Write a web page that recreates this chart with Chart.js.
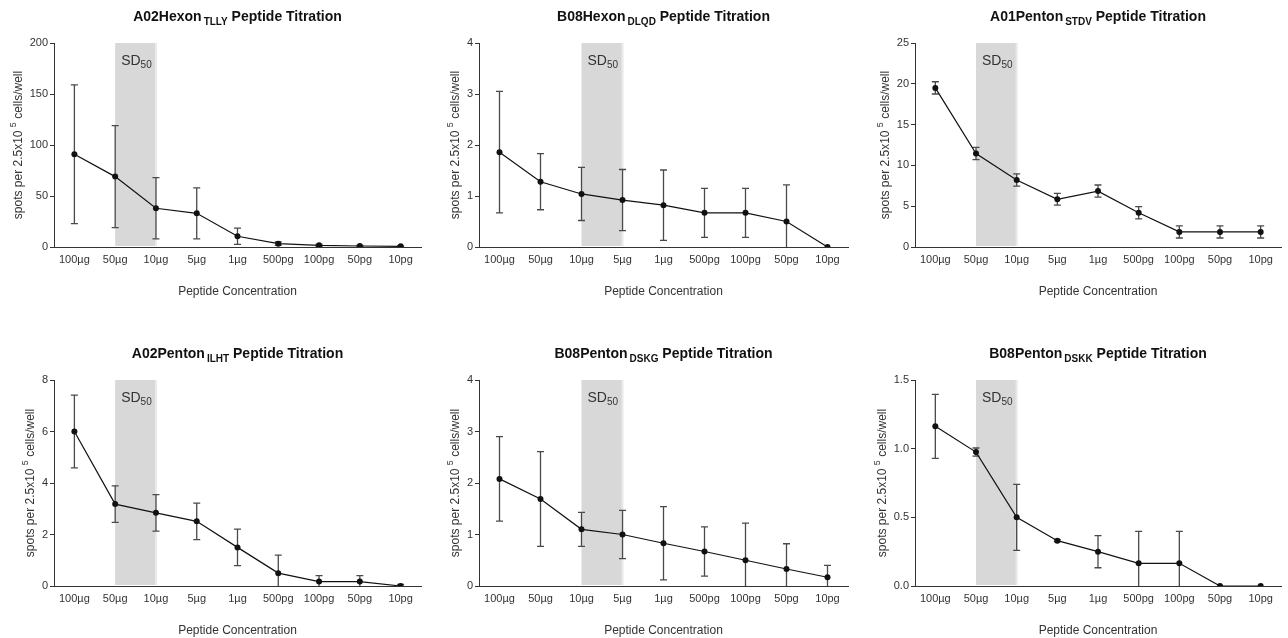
<!DOCTYPE html>
<html>
<head>
<meta charset="utf-8">
<script src="https://cdn.jsdelivr.net/npm/chart.js@4.4.1/dist/chart.umd.min.js"></script>
<style>
body { margin: 0; background: #fff; }
#wrap { position: relative; width: 1288px; height: 638px; overflow: hidden; }
canvas { position: absolute; }
</style>
</head>
<body>
<div id="wrap">
  <canvas id="c0" width="430" height="310" style="left:0px;top:0px"></canvas>
  <canvas id="c1" width="430" height="310" style="left:430px;top:0px"></canvas>
  <canvas id="c2" width="430" height="310" style="left:858px;top:0px"></canvas>
  <canvas id="c3" width="430" height="301" style="left:0px;top:337px"></canvas>
  <canvas id="c4" width="430" height="301" style="left:430px;top:337px"></canvas>
  <canvas id="c5" width="430" height="301" style="left:858px;top:337px"></canvas>
</div>
<script>
// x categories, same for every panel
const concentrations = ['100µg', '50µg', '10µg', '5µg', '1µg', '500pg', '100pg', '50pg', '10pg']

// panel titles (name + subscript)
const peptideNames = ['A02Hexon', 'B08Hexon', 'A01Penton', 'A02Penton', 'B08Penton', 'B08Penton']
const peptideSubs = ['TLLY', 'DLQD', 'STDV', 'ILHT', 'DSKG', 'DSKK']

// y axis max and step
const yMax = [200, 4, 25, 8, 4, 1.5]
const yStep = [50, 1, 5, 2, 1, 0.5]

// SD50 band starts at this category and ends at the next one
const sdBandStart = [1, 2, 1, 1, 2, 1]

// mean spots and error (+/-) per concentration
const tllyMean = [91, 69, 38, 33, 10.5, 3.3, 1.6, 1.0, 0.7]
const tllyErr = [68, 50, 30, 25, 8, 1.8, 1, 0.5, 0.3]

const dlqdMean = [1.86, 1.28, 1.04, 0.92, 0.82, 0.67, 0.67, 0.5, 0]
const dlqdErr = [1.19, 0.55, 0.52, 0.6, 0.69, 0.48, 0.48, 0.72, 0]

const stdvMean = [19.5, 11.45, 8.2, 5.85, 6.85, 4.2, 1.85, 1.85, 1.85]
const stdvErr = [0.75, 0.75, 0.75, 0.72, 0.75, 0.75, 0.75, 0.75, 0.75]

const ilhtMean = [6.0, 3.18, 2.84, 2.51, 1.5, 0.5, 0.17, 0.17, 0]
const ilhtErr = [1.41, 0.71, 0.71, 0.71, 0.71, 0.7, 0.23, 0.23, 0.06]

const dskgMean = [2.08, 1.69, 1.1, 1.0, 0.83, 0.67, 0.5, 0.33, 0.17]
const dskgErr = [0.82, 0.92, 0.33, 0.47, 0.71, 0.48, 0.72, 0.49, 0.23]

const dskkMean = [1.163, 0.975, 0.5, 0.33, 0.25, 0.165, 0.165, 0, 0]
const dskkErr = [0.233, 0.03, 0.24, 0.007, 0.117, 0.233, 0.233, 0, 0]

const means = [tllyMean, dlqdMean, stdvMean, ilhtMean, dskgMean, dskkMean]
const errors = [tllyErr, dlqdErr, stdvErr, ilhtErr, dskgErr, dskkErr]

// where the plot area sits inside each canvas
const layouts = [
    { left: 54, right: 9, top: 43, xh: 63 },
    { left: 49, right: 12, top: 43, xh: 63 },
    { left: 57, right: 7, top: 43, xh: 63 },
    { left: 54, right: 9, top: 43, xh: 52 },
    { left: 49, right: 12, top: 43, xh: 52 },
    { left: 57, right: 7, top: 43, xh: 52 }
]

const FONT = '"Liberation Sans", Arial, sans-serif'
const TEXT = '#333'

// draws text parts (normal + sub/superscript) in a row centred on x
function drawParts(ctx, parts, x, y) {
    let total = 0
    parts.forEach(p => {
        ctx.font = p.font
        total += ctx.measureText(p.text).width + (p.gap || 0)
    })
    let cx = x - total / 2
    parts.forEach(p => {
        ctx.font = p.font
        ctx.fillText(p.text, cx, y + (p.dy || 0))
        cx += ctx.measureText(p.text).width + (p.gap || 0)
    })
}

const decorPlugin = {
    id: 'decor',
    beforeDatasetsDraw(chart, args, opts) {
        const ctx = chart.ctx
        const a = chart.chartArea
        const x = chart.scales.x
        const y = chart.scales.y
        const i = opts.index

        // SD50 band
        const x1 = x.getPixelForValue(sdBandStart[i])
        const x2 = x.getPixelForValue(sdBandStart[i] + 1)
        ctx.save()
        ctx.fillStyle = '#d8d8d8'
        ctx.fillRect(x1, a.top, x2 - x1, a.bottom - a.top - 1)
        ctx.fillStyle = '#e9e9e9'
        ctx.fillRect(x2 - 1, a.top, 2, a.bottom - a.top - 1)
        ctx.fillStyle = TEXT
        ctx.textBaseline = 'alphabetic'
        ctx.textAlign = 'left'
        ctx.font = '14px ' + FONT
        ctx.fillText('SD', x1 + 6, a.top + 22)
        const w = ctx.measureText('SD').width
        ctx.font = '10px ' + FONT
        ctx.fillText('50', x1 + 6 + w, a.top + 25)
        ctx.restore()

        // error bars
        ctx.save()
        ctx.beginPath()
        ctx.rect(a.left, a.top - 10, a.right - a.left, a.bottom - a.top + 10)
        ctx.clip()
        ctx.strokeStyle = '#4a4a4a'
        ctx.lineWidth = 1.3
        means[i].forEach((m, k) => {
            const e = errors[i][k]
            if (!e) return
            const px = x.getPixelForValue(k)
            const top = y.getPixelForValue(m + e)
            const low = m - e
            const bot = y.getPixelForValue(Math.max(low, 0))
            ctx.beginPath()
            ctx.moveTo(px, top)
            ctx.lineTo(px, bot)
            ctx.moveTo(px - 3.5, top)
            ctx.lineTo(px + 3.5, top)
            if (low > 0) {
                ctx.moveTo(px - 3.5, bot)
                ctx.lineTo(px + 3.5, bot)
            }
            ctx.stroke()
        })
        ctx.restore()
    },
    afterDraw(chart, args, opts) {
        const ctx = chart.ctx
        const a = chart.chartArea
        const i = opts.index
        const cx = (a.left + a.right) / 2
        ctx.save()
        ctx.fillStyle = '#111'
        ctx.textAlign = 'left'
        ctx.textBaseline = 'alphabetic'

        // title with subscript
        drawParts(ctx, [
            { text: peptideNames[i], font: 'bold 14px ' + FONT, gap: 2 },
            { text: peptideSubs[i], font: 'bold 10px ' + FONT, dy: 4 },
            { text: ' Peptide Titration', font: 'bold 14px ' + FONT }
        ], cx, a.top - 22)

        // x title
        ctx.fillStyle = TEXT
        drawParts(ctx, [{ text: 'Peptide Concentration', font: '12px ' + FONT }], cx, a.bottom + 48)

        // y title, rotated, placed left of the widest tick label
        ctx.font = '11px ' + FONT
        let widest = 0
        chart.scales.y.ticks.forEach(t => {
            widest = Math.max(widest, ctx.measureText(t.label).width)
        })
        const ty = a.left - 6 - widest - 12
        ctx.translate(ty, (a.top + a.bottom) / 2)
        ctx.rotate(-Math.PI / 2)
        drawParts(ctx, [
            { text: 'spots per 2.5x10 ', font: '12px ' + FONT },
            { text: '5', font: '9px ' + FONT, dy: -6 },
            { text: ' cells/well', font: '12px ' + FONT }
        ], 0, 4)
        ctx.restore()
    }
}

function makePanel(i) {
    const lay = layouts[i]
    const canvas = document.querySelector('#c' + i)
    new Chart(canvas.getContext('2d'), {
        type: 'line',
        data: {
            labels: concentrations,
            datasets: [{
                data: means[i],
                borderColor: '#111',
                backgroundColor: '#111',
                borderWidth: 1.2,
                pointRadius: 3,
                pointBackgroundColor: '#111',
                pointBorderWidth: 0,
                tension: 0
            }]
        },
        options: {
            responsive: false,
            animation: false,
            layout: { padding: { left: 0, top: lay.top, right: lay.right, bottom: 0 } },
            plugins: {
                legend: { display: false },
                tooltip: { enabled: false },
                decor: { index: i }
            },
            scales: {
                x: {
                    offset: true,
                    afterFit: s => { s.height = lay.xh },
                    grid: { display: true, drawOnChartArea: false, drawTicks: false },
                    border: { color: '#333', width: 1 },
                    ticks: {
                        color: TEXT,
                        font: { family: FONT, size: 11 },
                        padding: 6,
                        maxRotation: 0,
                        autoSkip: false
                    }
                },
                y: {
                    min: 0,
                    max: yMax[i],
                    afterFit: s => { s.width = lay.left },
                    grid: { display: true, drawOnChartArea: false, drawTicks: true, tickLength: 4, color: '#333' },
                    border: { color: '#333', width: 1 },
                    ticks: {
                        stepSize: yStep[i],
                        color: TEXT,
                        font: { family: FONT, size: 11 },
                        padding: 2,
                        callback: v => (yStep[i] < 1 ? v.toFixed(1) : v)
                    }
                }
            }
        },
        plugins: [decorPlugin]
    })
}

for (let i = 0; i < 6; i++) {
    makePanel(i)
}
</script>
</body>
</html>
